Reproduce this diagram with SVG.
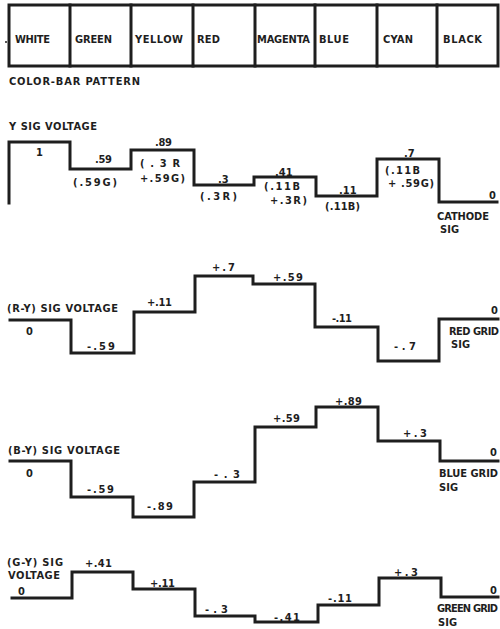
<svg xmlns="http://www.w3.org/2000/svg" width="500" height="629" viewBox="0 0 500 629">
<style>
.t{font-family:"DejaVu Sans Condensed","DejaVu Sans","Liberation Sans",sans-serif;font-weight:bold;font-size:11px;fill:#1e1e1e}
.w{fill:none;stroke:#1e1e1e;stroke-width:3;stroke-linejoin:miter;stroke-linecap:square}
</style>
<rect width="500" height="629" fill="#ffffff"/>
<g id="colorbar">
<rect class="w" x="9" y="5" width="489" height="61"/>
<path class="w" d="M70 5V66M131 5V66M193 5V66M255 5V66M315 5V66M377 5V66M437 5V66"/>
<circle cx="6" cy="42" r="1" fill="#1e1e1e"/>
<text class="t" x="15" y="43" textLength="35" lengthAdjust="spacing">WHITE</text>
<text class="t" x="75" y="43" textLength="37" lengthAdjust="spacing">GREEN</text>
<text class="t" x="135" y="43" textLength="48" lengthAdjust="spacing">YELLOW</text>
<text class="t" x="197" y="43" textLength="23" lengthAdjust="spacing">RED</text>
<text class="t" x="257" y="43" textLength="53" lengthAdjust="spacing">MAGENTA</text>
<text class="t" x="319" y="43" textLength="30" lengthAdjust="spacing">BLUE</text>
<text class="t" x="383" y="43" textLength="30" lengthAdjust="spacing">CYAN</text>
<text class="t" x="443" y="43" textLength="39" lengthAdjust="spacing">BLACK</text>
<text class="t" x="9" y="85" textLength="131" lengthAdjust="spacing">COLOR-BAR PATTERN</text>
</g>
<g id="y-signal">
<text class="t" x="9" y="130" textLength="88" lengthAdjust="spacing">Y SIG VOLTAGE</text>
<path class="w" d="M9 203V142H70V169H131V150H194V185H254V177H316V196H377V159H439V202H497"/>
<text class="t" x="36" y="156">1</text>
<text class="t" x="95" y="163" textLength="17" lengthAdjust="spacing">.59</text>
<text class="t" x="73" y="186" textLength="44" lengthAdjust="spacing">(.59G)</text>
<text class="t" x="155" y="146" textLength="17" lengthAdjust="spacing">.89</text>
<text class="t" x="140" y="167" textLength="40" lengthAdjust="spacing">(.3R</text>
<text class="t" x="140" y="182" textLength="45" lengthAdjust="spacing">+.59G)</text>
<text class="t" x="218" y="183">.3</text>
<text class="t" x="200" y="200" textLength="37" lengthAdjust="spacing">(.3R)</text>
<text class="t" x="275" y="176">.41</text>
<text class="t" x="264" y="190" textLength="36" lengthAdjust="spacing">(.11B</text>
<text class="t" x="270" y="204" textLength="37" lengthAdjust="spacing">+.3R)</text>
<text class="t" x="339" y="194">.11</text>
<text class="t" x="325" y="210" textLength="35" lengthAdjust="spacing">(.11B)</text>
<text class="t" x="404" y="157">.7</text>
<text class="t" x="385" y="174" textLength="35" lengthAdjust="spacing">(.11B</text>
<text class="t" x="388" y="187" textLength="46" lengthAdjust="spacing">+ .59G)</text>
<text class="t" x="489" y="199">0</text>
<text class="t" x="437" y="220" textLength="52" lengthAdjust="spacing">CATHODE</text>
<text class="t" x="440" y="233" textLength="19" lengthAdjust="spacing">SIG</text>
</g>
<g id="r-y-signal">
<text class="t" x="7" y="312" textLength="111" lengthAdjust="spacing">(R-Y) SIG VOLTAGE</text>
<path class="w" d="M10 320H71V353H134V312H195V276H253V284H315V327H378V361H439V319H498"/>
<text class="t" x="26" y="335">0</text>
<text class="t" x="87" y="350" textLength="28" lengthAdjust="spacing">-.59</text>
<text class="t" x="147" y="306" textLength="25" lengthAdjust="spacing">+.11</text>
<text class="t" x="212" y="271" textLength="23" lengthAdjust="spacing">+.7</text>
<text class="t" x="273" y="281" textLength="30" lengthAdjust="spacing">+.59</text>
<text class="t" x="332" y="322" textLength="20" lengthAdjust="spacing">-.11</text>
<text class="t" x="394" y="350" textLength="22" lengthAdjust="spacing">-.7</text>
<text class="t" x="491" y="314">0</text>
<text class="t" x="449" y="335" textLength="50" lengthAdjust="spacing">RED GRID</text>
<text class="t" x="451" y="348" textLength="19" lengthAdjust="spacing">SIG</text>
</g>
<g id="b-y-signal">
<text class="t" x="8" y="454" textLength="112" lengthAdjust="spacing">(B-Y) SIG VOLTAGE</text>
<path class="w" d="M10 461H71V497H133V517H194V482H255V427H316V407H378V441H440V461H498"/>
<text class="t" x="26" y="477">0</text>
<text class="t" x="87" y="493" textLength="27" lengthAdjust="spacing">-.59</text>
<text class="t" x="147" y="510" textLength="26" lengthAdjust="spacing">-.89</text>
<text class="t" x="214" y="478" textLength="26" lengthAdjust="spacing">-.3</text>
<text class="t" x="273" y="422" textLength="27" lengthAdjust="spacing">+.59</text>
<text class="t" x="335" y="405" textLength="27" lengthAdjust="spacing">+.89</text>
<text class="t" x="403" y="437" textLength="24" lengthAdjust="spacing">+.3</text>
<text class="t" x="490" y="456">0</text>
<text class="t" x="439" y="477" textLength="59" lengthAdjust="spacing">BLUE GRID</text>
<text class="t" x="439" y="491" textLength="19" lengthAdjust="spacing">SIG</text>
</g>
<g id="g-y-signal">
<text class="t" x="7" y="566" textLength="56" lengthAdjust="spacing">(G-Y) SIG</text>
<text class="t" x="8" y="579" textLength="52" lengthAdjust="spacing">VOLTAGE</text>
<path class="w" d="M12 598H72V572H133V589H195V616H255V622H318V605H379V578H441V597H498"/>
<text class="t" x="18" y="595">0</text>
<text class="t" x="85" y="567" textLength="27" lengthAdjust="spacing">+.41</text>
<text class="t" x="150" y="587" textLength="25" lengthAdjust="spacing">+.11</text>
<text class="t" x="205" y="613" textLength="23" lengthAdjust="spacing">-.3</text>
<text class="t" x="274" y="621" textLength="26" lengthAdjust="spacing">-.41</text>
<text class="t" x="328" y="602" textLength="24" lengthAdjust="spacing">-.11</text>
<text class="t" x="394" y="576" textLength="24" lengthAdjust="spacing">+.3</text>
<text class="t" x="490" y="594">0</text>
<text class="t" x="437" y="612" textLength="61" lengthAdjust="spacing">GREEN GRID</text>
<text class="t" x="438" y="626" textLength="19" lengthAdjust="spacing">SIG</text>
</g>
</svg>
